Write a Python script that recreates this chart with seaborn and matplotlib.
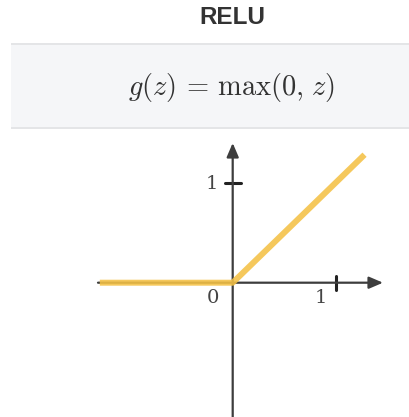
import matplotlib
matplotlib.use("Agg")
import matplotlib.pyplot as plt
from matplotlib.patches import Rectangle
import numpy as np
import pandas as pd
import seaborn as sns

sns.set_theme(style="white")
plt.rcParams["mathtext.fontset"] = "cm"

# ReLU curve: z values and g(z) = max(0, z)
z_values = [-1.29, 0.0, 1.28]
g_values = [0.0, 0.0, 1.28]
x_ticks = [1]
y_ticks = [1]
title = "RELU"
formula = r"$g(z) \,=\, \max(0,\hspace{0.12}z)$"

W, H = 409, 417
fig = plt.figure(figsize=(W / 100, H / 100), dpi=100)

# header box behind the formula
fig.patches.append(Rectangle((11 / W, 1 - 128 / H), (W - 11) / W, 84 / H,
                             transform=fig.transFigure, facecolor="#f5f6f8",
                             edgecolor="none", zorder=0))
for yy in (44, 128):
    fig.patches.append(Rectangle((11 / W, 1 - (yy + 1) / H), (W - 11) / W, 2 / H,
                                 transform=fig.transFigure, facecolor="#e4e5e7",
                                 edgecolor="none", zorder=1))

fig.text(232 / W, 1 - 18 / H, title, ha="center", va="center",
         fontsize=17.5, fontweight="bold", color="#333333",
         family=["Liberation Sans", "DejaVu Sans"])
fig.text(231 / W, 1 - 87 / H, formula, ha="center", va="center",
         fontsize=20.5, color="#333333")

# axes area in pixel terms
left_px, right_px, top_px, bottom_px = 90, 400, 135, 417
ox, oy = 232.7, 282.7
sx, sy = 103.0, 100.0
ax = fig.add_axes([left_px / W, (H - bottom_px) / H,
                   (right_px - left_px) / W, (bottom_px - top_px) / H])
ax.set_xlim((left_px - ox) / sx, (right_px - ox) / sx)
ax.set_ylim((oy - bottom_px) / sy, (oy - top_px) / sy)
ax.axis("off")

axis_col = "#3d3d3d"
x_lo, x_hi = (98 - ox) / sx, (383 - ox) / sx
y_lo, y_hi = (oy - 420) / sy, (oy - 143) / sy
ax.annotate("", xy=(x_hi, 0), xytext=(x_lo, 0),
            arrowprops=dict(arrowstyle="-|>,head_length=0.7,head_width=0.3",
                            color=axis_col, lw=1.6, shrinkA=0, shrinkB=0))
ax.annotate("", xy=(0, y_hi), xytext=(0, y_lo),
            arrowprops=dict(arrowstyle="-|>,head_length=0.7,head_width=0.3",
                            color=axis_col, lw=1.6, shrinkA=0, shrinkB=0))

# tick marks and labels
for t in x_ticks:
    ax.plot([t, t], [-7 / sy, 7 / sy], color="#222222", lw=2.2)
    ax.text(t - 15 / sx, -15 / sy, str(t), ha="center", va="center",
            fontsize=14, color="#444444", family="DejaVu Serif")
for t in y_ticks:
    ax.plot([-8 / sx, 8 / sx], [t, t], color="#222222", lw=2.2)
    ax.text(-21 / sx, t - 1 / sy, str(t), ha="center", va="center",
            fontsize=14, color="#444444", family="DejaVu Serif")
ax.text(-20 / sx, -15 / sy, "0", ha="center", va="center",
        fontsize=14, color="#444444", family="DejaVu Serif")

df = pd.DataFrame({"z": z_values, "g": g_values})
sns.lineplot(data=df, x="z", y="g", ax=ax, color="#f4c145", lw=4.3,
             alpha=0.88, solid_capstyle="butt", zorder=5)
ax.set_xlabel("")
ax.set_ylabel("")

fig.savefig("out.png", dpi=100)
